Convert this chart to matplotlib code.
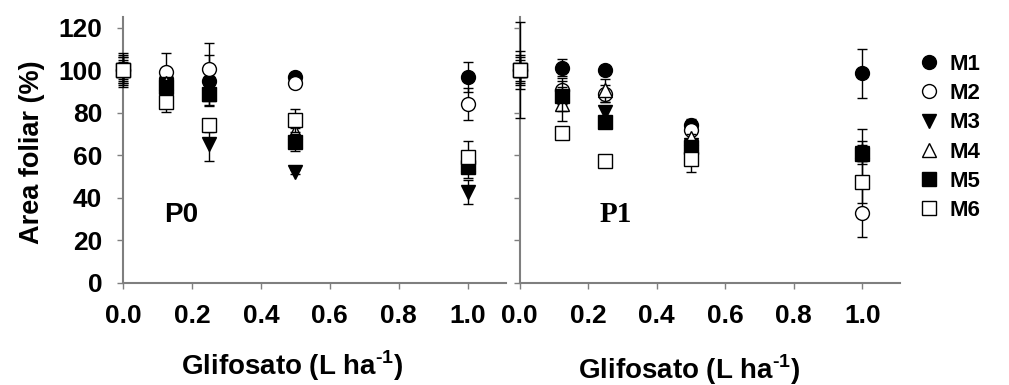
import matplotlib
matplotlib.use("Agg")
import matplotlib.pyplot as plt
from matplotlib.lines import Line2D

# doses de glifosato (L ha-1)
doses = [0.0, 0.125, 0.25, 0.5, 1.0]
mezclas = ["M1", "M2", "M3", "M4", "M5", "M6"]

# P0
p0_m1 = [100, 96, 95, 97, 96.8]
p0_m2 = [100, 99, 100.6, 94, 84.3]
p0_m3 = [100, 93, 65.5, 52.2, 42.8]
p0_m4 = [100, 94, 89, 71, 56]
p0_m5 = [100, 92, 88.9, 66.2, 54.5]
p0_m6 = [100, 85, 74, 76.4, 59.2]
p0_e1 = [6, 3, 12, 1, 7]
p0_e2 = [7, 9, 12, 1, 7.5]
p0_e3 = [8, 4, 8, 1, 5.5]
p0_e4 = [5, 2, 2, 2, 3]
p0_e5 = [6, 3, 5.5, 4, 5]
p0_e6 = [4, 4.5, 3, 5.5, 7.5]

# P1
p1_m1 = [100, 101.2, 100.2, 74, 98.6]
p1_m2 = [100, 90.5, 89, 72, 33.1]
p1_m3 = [100, 87, 80.3, 65, 61]
p1_m4 = [100, 84.3, 90.5, 68, 62]
p1_m5 = [100, 88, 75.6, 64.1, 60.5]
p1_m6 = [100, 70.4, 57.5, 58.3, 47.5]
p1_e1 = [6, 4, 1.5, 3, 11.5]
p1_e2 = [22.5, 6, 4, 2, 11.4]
p1_e3 = [9, 3, 2, 2, 11.5]
p1_e4 = [7, 8, 5.5, 2, 4.5]
p1_e5 = [5, 7, 2, 2, 4.5]
p1_e6 = [3, 2, 1, 6, 9.8]

# estilo de cada mezcla: (marcador, relleno)
estilos = [("o", "black"), ("o", "white"), ("v", "black"),
           ("^", "white"), ("s", "black"), ("s", "white")]

gris = "#7f7f7f"
fuente = "Liberation Sans"
plt.rcParams["mathtext.fontset"] = "custom"
plt.rcParams["mathtext.rm"] = "Liberation Sans:bold"
plt.rcParams["mathtext.bf"] = "Liberation Sans:bold"

fig = plt.figure(figsize=(10.09, 3.85), dpi=100)
ax0 = fig.add_axes([0.122, 0.265, 0.379, 0.691])
ax1 = fig.add_axes([0.515, 0.265, 0.377, 0.691])

def dibujar(ax, series, errores):
    for i in range(len(series)):
        marca, relleno = estilos[i]
        ax.errorbar(doses, series[i], yerr=errores[i], fmt=marca, ms=10,
                    mfc=relleno, mec="black", mew=1, ecolor="black",
                    elinewidth=1, capsize=3.5, capthick=1, linestyle="none",
                    zorder=3 + i, clip_on=False)
    ax.set_xlim(0, 1.11)
    ax.set_ylim(0, 125)
    ax.set_xticks([0.0, 0.2, 0.4, 0.6, 0.8, 1.0])
    ax.set_yticks([0, 20, 40, 60, 80, 100, 120])
    for lado in ["top", "right"]:
        ax.spines[lado].set_visible(False)
    for lado in ["left", "bottom"]:
        ax.spines[lado].set_color(gris)
        ax.spines[lado].set_linewidth(1.5)
    ax.tick_params(direction="out", length=4, width=1, color=gris)
    ax.tick_params(axis="x", pad=11)
    for lab in ax.get_xticklabels():
        lab.set_fontfamily(fuente)
        lab.set_fontweight("bold")
        lab.set_fontsize(19)

dibujar(ax0, [p0_m1, p0_m2, p0_m3, p0_m4, p0_m5, p0_m6],
        [p0_e1, p0_e2, p0_e3, p0_e4, p0_e5, p0_e6])
dibujar(ax1, [p1_m1, p1_m2, p1_m3, p1_m4, p1_m5, p1_m6],
        [p1_e1, p1_e2, p1_e3, p1_e4, p1_e5, p1_e6])

ax0.tick_params(axis="y", pad=11)
for lab in ax0.get_yticklabels():
    lab.set_fontfamily(fuente)
    lab.set_fontweight("bold")
    lab.set_fontsize(19)
ax1.set_yticklabels([])

ax0.set_ylabel("Area foliar (%)", fontfamily=fuente, fontweight="bold", fontsize=19.5)
ax0.yaxis.set_label_coords(-0.205, 0.49)

etiqueta_x = r"Glifosato (L ha$^{\text{-1}}$)"
ax0.text(0.442, -0.31, etiqueta_x, transform=ax0.transAxes, ha="center",
         va="center", fontfamily=fuente, fontweight="bold", fontsize=20)
ax1.text(0.447, -0.325, etiqueta_x, transform=ax1.transAxes, ha="center",
         va="center", fontfamily=fuente, fontweight="bold", fontsize=20)

ax0.text(0.12, 32, "P0", ha="left", va="center", fontfamily=fuente,
         fontweight="bold", fontsize=20)
ax1.text(0.234, 32, "P1", ha="left", va="center", fontfamily="Liberation Serif",
         fontweight="bold", fontsize=21)

manijas = []
for marca, relleno in estilos:
    manijas.append(Line2D([], [], marker=marca, ms=10, mfc=relleno, mec="black",
                          mew=1, linestyle="none"))
fig.legend(manijas, mezclas, loc="center left", bbox_to_anchor=(0.89, 0.643),
           frameon=False, handlelength=1.0, handletextpad=0.4, labelspacing=0.37,
           prop={"family": fuente, "weight": "bold", "size": 16})

fig.savefig("out.png", dpi=100)
